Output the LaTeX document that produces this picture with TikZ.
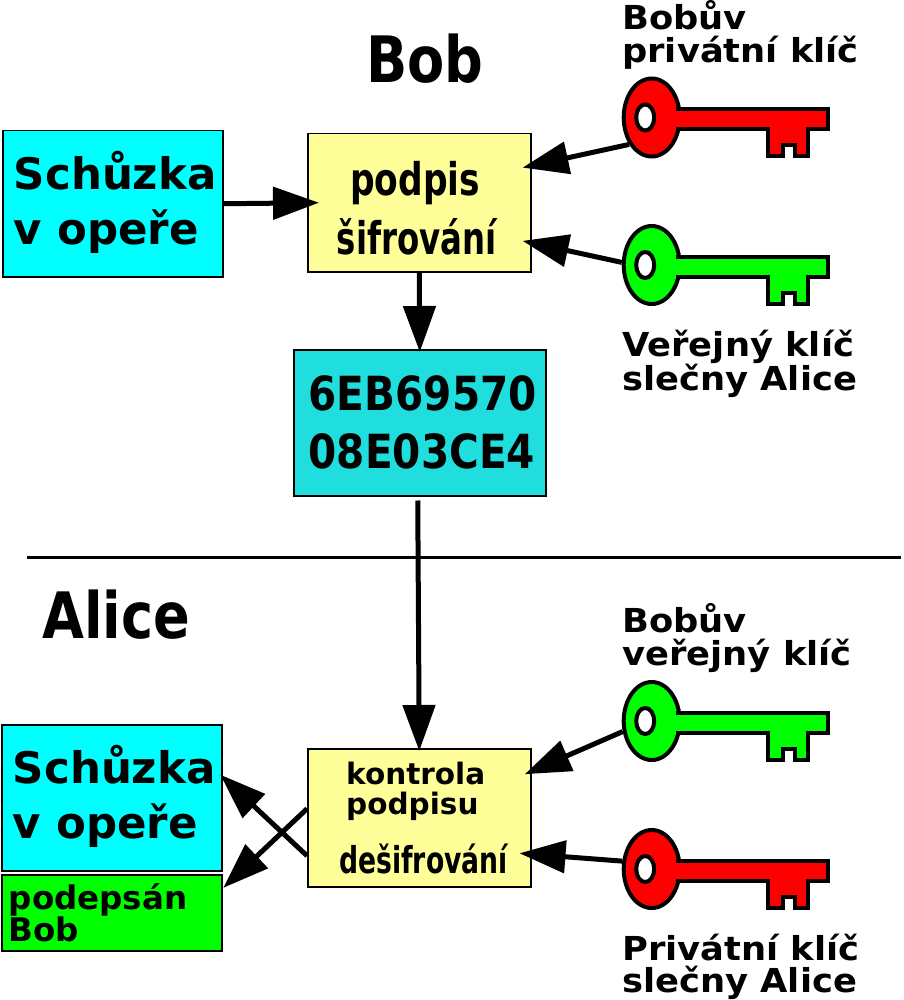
\documentclass[tikz,border=0pt]{standalone}
\usepackage{fontspec}
\setmainfont{DejaVu Sans}
\newfontfamily\labelfont[FakeStretch=1.07]{DejaVu Sans}
\newfontfamily\personfont[FakeStretch=0.94]{DejaVu Sans Condensed}
\newfontfamily\signfont[FakeStretch=0.85]{DejaVu Sans Condensed}
\newfontfamily\codefont[FakeStretch=0.96]{DejaVu Sans Condensed}
\newfontfamily\decryptfont[FakeStretch=0.8]{DejaVu Sans Condensed}
\definecolor{msgblue}{HTML}{00FFFF}
\definecolor{codeblue}{HTML}{20DEDE}
\definecolor{gateyellow}{HTML}{FFFF99}
\definecolor{keyred}{HTML}{FF0000}
\definecolor{keygreen}{HTML}{00FF00}
\usetikzlibrary{arrows.meta,shapes.geometric}

\begin{document}
\begin{tikzpicture}[
    x=1pt, y=-1pt,
    box/.style={draw, line width=1.5pt, inner sep=0pt, align=left, font=\bfseries},
    plain/.style={box, fill=msgblue, minimum width=220pt, minimum height=146pt, text depth=12pt,
      font=\fontsize{43.5}{55}\selectfont\bfseries},
    gate/.style={box, fill=gateyellow, minimum width=223pt, minimum height=138pt},
    cipher/.style={box, fill=codeblue, minimum width=252pt, minimum height=146pt,
      font=\fontsize{47}{58}\selectfont\codefont\bfseries},
    keylabel/.style={anchor=west, inner sep=0pt, align=left,
      font=\fontsize{33}{32.5}\selectfont\labelfont\bfseries},
    person/.style={anchor=base west, inner sep=0pt, font=\fontsize{64}{64}\selectfont\personfont\bfseries},
    arrow/.style={-{Triangle[length=46pt,width=32pt]}, line width=5pt, shorten >=-3pt},
    keyicon/.pic={
      \node[ellipse, draw, line width=4pt, fill=#1, minimum width=56pt, minimum height=78pt,
        inner sep=0pt] (-grip) at (0,0) {};
      \fill[#1] (0,-8) rectangle (40,12);
      \draw[line width=4pt, fill=#1] (24.5,-8) -- (176,-8) -- (176,11.5) -- (156.5,11.5) -- (156.5,39)
        -- (143.5,39) -- (143.5,27.5) -- (131,27.5) -- (131,39) -- (116.5,39) -- (116.5,11.5) -- (24.5,11.5);
      \draw[line width=4pt, fill=white] (-6.5,0) ellipse (9pt and 13pt);
    }
  ]
    \useasboundingbox (0,0) rectangle (903,1000);
    % Bob
    \node[person] (bob) at (366,83) {Bob};
    \node[plain, anchor=north west] (msg) at (2,130) {\hspace*{5pt}Schůzka\\\hspace*{5pt}v opeře};
    \node[gate, anchor=north west, font=\fontsize{45}{59}\selectfont\bfseries, align=center]
      (sign) at (307,133) {\rule{0pt}{45.5pt}\signfont podpis\hspace*{8pt}\\\decryptfont šifrování\hspace*{5pt}};
    \node[cipher, anchor=north west] (code) at (293,349) {\hspace*{6pt}6EB69570\\\hspace*{6pt}08E03CE4};
    \pic (bobpriv) at (651.7,117.5) {keyicon=keyred};
    \pic (alicepub) at (651.7,265) {keyicon=keygreen};
    \node[keylabel] (bobprivtext) at (622,35) {Bobův\\privátní klíč};
    \node[keylabel] (alicepubtext) at (622,364) {Veřejný klíč\\slečny Alice};
    \draw[arrow] (msg.east) -- ([xshift=9pt]sign.west);
    \draw[arrow] (bobpriv-grip.230) -- ([xshift=-6pt,yshift=-34pt]sign.north east);
    \draw[arrow] (alicepub-grip.175) -- ([xshift=-6pt,yshift=31pt]sign.south east);
    \draw[arrow] (sign.south) -- (code.north);
    % divider
    \coordinate (ruleleft) at (27,557);
    \coordinate (ruleright) at (901,557);
    \draw[line width=3pt] (ruleleft) -- (ruleright);
    % Alice
    \node[person] (alice) at (42,638) {Alice};
    \node[plain, anchor=north west] (msgout) at (1,724) {\hspace*{5pt}Schůzka\\\hspace*{5pt}v opeře};
    \node[box, fill=keygreen, anchor=north west, minimum width=220pt, minimum height=76pt,
      font=\fontsize{32.5}{32}\selectfont\bfseries, text width=206pt] (signed) at (1,874) {podepsán\\Bob};
    \node[gate, anchor=north west] (check) at (307,748) {};
    \node[anchor=west, inner sep=0pt, align=left, font=\fontsize{29.5}{30}\selectfont\bfseries] (checktext) at (346,791) {kontrola\\podpisu};
    \node[anchor=base west, inner sep=0pt, font=\fontsize{37}{37}\selectfont\decryptfont\bfseries] (decrypt) at (339,873) {dešifrování};
    \pic (bobpub) at (651.7,721) {keyicon=keygreen};
    \pic (alicepriv) at (651.7,869) {keyicon=keyred};
    \node[keylabel] (bobpubtext) at (622,638) {Bobův\\veřejný klíč};
    \node[keylabel] (aliceprivtext) at (622,967) {Privátní klíč\\slečny Alice};
    \draw[arrow] ([xshift=-2pt,yshift=-4pt]code.south) -- (check.north);
    \draw[arrow] (bobpub-grip.200) -- ([xshift=-4pt,yshift=-25pt]check.north east);
    \draw[arrow] (alicepriv-grip.165) -- ([xshift=-9pt,yshift=34pt]check.south east);
    \draw[arrow] ([yshift=-38pt]check.west) -- ([yshift=21pt]msgout.east);
    \draw[arrow] ([yshift=9pt]check.west) -- ([xshift=3pt,yshift=27pt]signed.east);
  \end{tikzpicture}
\end{document}
